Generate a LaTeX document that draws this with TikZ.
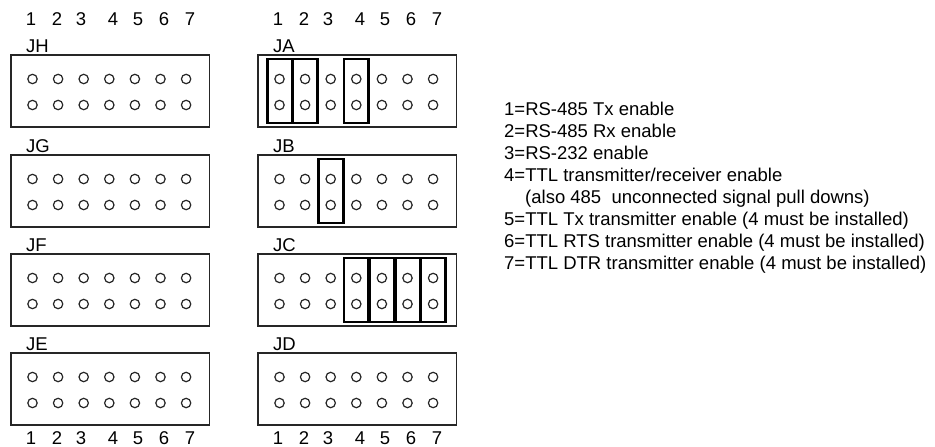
\documentclass[tikz,border=0pt]{standalone}
\usepackage{fontspec}
\setmainfont{Liberation Sans}
\newcommand\myfnt{\fontsize{18.5}{22}\selectfont}
\begin{document}
\begin{tikzpicture}[x=1pt,y=-1pt,
  hdr/.style={draw=black!85, line width=1.2pt},
  pin/.style={draw=black!85, line width=1.2pt},
  jmp/.style={draw=black, line width=2.8pt},
  lbl/.style={font=\myfnt, inner sep=0pt, anchor=base west},
  num/.style={font=\myfnt, inner sep=0pt, anchor=base},
  txt/.style={font=\myfnt, inner sep=0pt, anchor=base west}]
\useasboundingbox[fill=white] (0,0) rectangle (935,447);
% headers
\foreach \nm/\xo/\yo in {JH/11/55, JG/11/155, JF/11/254, JE/11/353, JA/258/55, JB/258/155, JC/258/254, JD/258/353} {
  \draw[hdr] (\xo,\yo) rectangle ++(198.5,72);
  \node[lbl] (lab\nm) at (\xo+15,\yo-2.5) {\nm};
  \foreach \k in {0,...,6} {
    \draw[pin] (\xo+21.5+25.6*\k,\yo+24) circle (4.7pt);
    \draw[pin] (\xo+21.5+25.6*\k,\yo+50) circle (4.7pt);
  }
}
% jumpers
\foreach \xo/\yo/\k in {258/55/0, 258/55/1, 258/55/3, 258/155/2, 258/254/3, 258/254/4, 258/254/5, 258/254/6}
  \draw[jmp] (\xo+21.5+25.6*\k-12.4,\yo+4) rectangle (\xo+21.5+25.6*\k+12.4,\yo+68);
% column numbers
\foreach \xo in {11,258} {
  \foreach \n/\dx in {1/20,2/46,3/70,4/102,5/127,6/153,7/179} {
    \node[num] (t\xo n\n) at (\xo+\dx,25.6) {\n};
    \node[num] (b\xo n\n) at (\xo+\dx,444.5) {\n};
  }
}
% legend
\node[txt] (l1) at (504,115) {1=RS-485 Tx enable};
\node[txt] (l2) at (504,137) {2=RS-485 Rx enable};
\node[txt] (l3) at (504,159) {3=RS-232 enable};
\node[txt] (l4) at (504,181) {4=TTL transmitter/receiver enable};
\node[txt] (l4b) at (525,203) {(also 485\ \ unconnected signal pull downs)};
\node[txt] (l5) at (504,225) {5=TTL Tx transmitter enable (4 must be installed)};
\node[txt] (l6) at (504,247) {6=TTL RTS transmitter enable (4 must be installed)};
\node[txt] (l7) at (504,269) {7=TTL DTR transmitter enable (4 must be installed)};
\end{tikzpicture}
\end{document}
